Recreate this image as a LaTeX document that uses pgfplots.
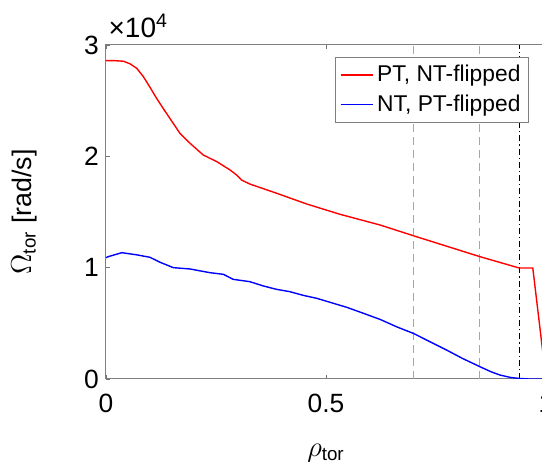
\documentclass[border=0pt]{standalone}
\usepackage{fontspec}
\setmainfont{Liberation Sans}
\usepackage{pgfplots}
\pgfplotsset{compat=1.18}
\definecolor{legframe}{gray}{0.5}
\begin{document}
\begin{tikzpicture}
\begin{axis}[name=ax, width=220pt, height=167pt, scale only axis,
  clip mode=individual,
  xmin=0, xmax=1, ymin=0, ymax=30000,
  xtick={0,0.5,1}, xticklabels={0,0.5,1},
  ytick={0,10000,20000,30000}, yticklabels={0,1,2,3},
  scaled y ticks=false,
  tick align=inside, major tick length=2.2pt,
  tick style={black!55, line width=0.4pt},
  axis line style={black!50, line width=0.5pt},
  every tick label/.append style={font=\fontsize{13.2}{15}\selectfont},
  /pgf/number format/assume math mode=true,
  xticklabel style={yshift=-4pt},
  xlabel={$\rho$\textsubscript{tor}},
  ylabel={$\Omega$\textsubscript{tor} [rad/s]},
  xlabel style={at={(axis description cs:0.5,-0.222)}, anchor=center, font=\fontsize{13.4}{15}\selectfont},
  ylabel style={at={(axis description cs:-0.186,0.5)}, anchor=center, font=\fontsize{13.4}{15}\selectfont},
  legend style={at={(0.961,0.964)}, anchor=north east, draw=legframe,
    font=\fontsize{11.4}{13}\selectfont, inner sep=2pt, row sep=1pt},
  legend cell align=left,
  legend image code/.code={\draw[#1] (0cm,0.05pt) -- (16pt,0.05pt);},
]
\addplot[forget plot, black!35, line width=0.5pt, dash pattern=on 4pt off 2.5pt] coordinates {(0.70,0) (0.70,30000)};
\addplot[forget plot, black!35, line width=0.5pt, dash pattern=on 4pt off 2.5pt] coordinates {(0.85,0) (0.85,30000)};
\addplot[forget plot, black, line width=0.5pt, dash pattern=on 3pt off 1.5pt on 0.6pt off 1.5pt] coordinates {(0.939,0) (0.939,30000)};
\addplot[draw=red, line width=0.7pt] coordinates {
(0,28600) (0.02,28590) (0.04,28540) (0.055,28300) (0.07,27900) (0.085,27150)
(0.10,26200) (0.115,25210) (0.13,24300) (0.145,23420) (0.168,22070) (0.191,21170)
(0.221,20120) (0.252,19520) (0.282,18770) (0.297,18320) (0.308,17870) (0.327,17510)
(0.388,16680) (0.456,15720) (0.532,14790) (0.623,13830) (0.70,12850) (0.85,10985)
(0.939,9970) (0.970,9970) (1.0,0)};
\addlegendentry{PT, NT-flipped}
\addplot[draw=blue, line width=0.7pt] coordinates {
(0,10900) (0.005,10985) (0.036,11345) (0.07,11150) (0.1,10930) (0.123,10480) (0.153,10000)
(0.191,9880) (0.236,9550) (0.267,9400) (0.289,8950) (0.327,8740) (0.358,8350)
(0.388,8050) (0.418,7840) (0.448,7515) (0.479,7245) (0.509,6890) (0.547,6440)
(0.585,5900) (0.623,5350) (0.661,4680) (0.70,4070) (0.736,3350) (0.774,2600)
(0.81,1850) (0.85,1100) (0.875,650) (0.895,360) (0.92,130) (0.939,50) (0.96,0) (1.0,0)};
\addlegendentry{NT, PT-flipped}
\node[anchor=base west, font=\fontsize{14}{16}\selectfont, inner sep=0pt] at (axis description cs:0.005,1.021) {×10\textsuperscript{4}};
\end{axis}
\pgfresetboundingbox
\path[use as bounding box] ([xshift=-53pt,yshift=-41.5pt]ax.south west) rectangle ([xshift=-2pt,yshift=22.5pt]ax.north east);
\end{tikzpicture}
\end{document}
